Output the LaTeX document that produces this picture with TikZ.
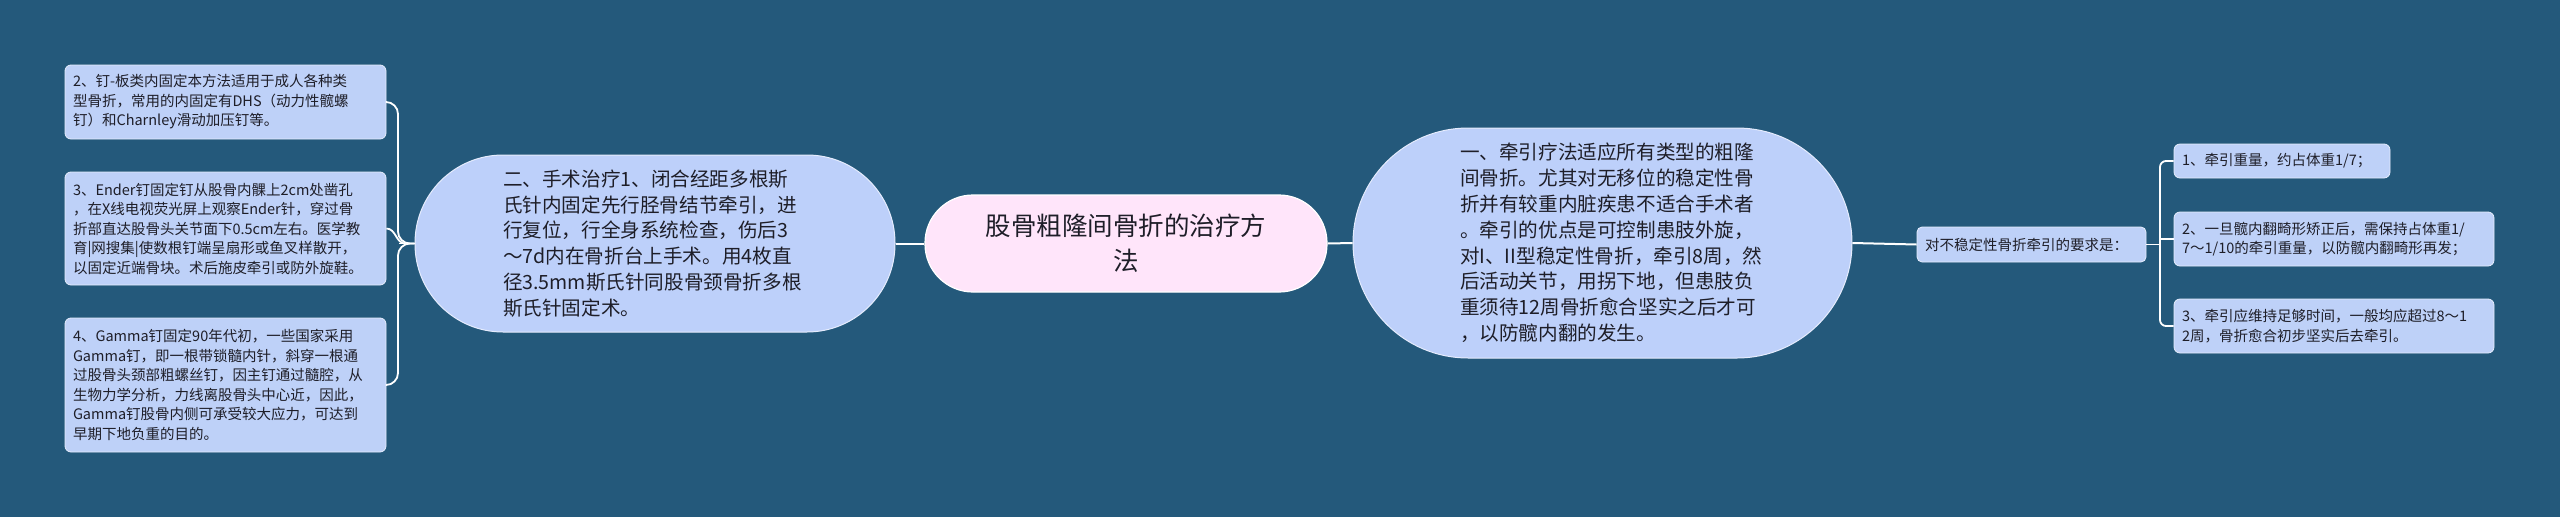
\documentclass[tikz,border=0pt]{standalone}
\usepackage{fontspec}
\setmainfont{Noto Sans CJK SC}
\definecolor{bg}{RGB}{36,89,123}
\definecolor{mainc}{RGB}{189,208,250}
\definecolor{leafc}{RGB}{190,209,248}
\definecolor{rootc}{RGB}{255,229,250}
\definecolor{txt}{RGB}{30,30,40}
\begin{document}
\begin{tikzpicture}[x=1pt,y=-1pt,
  leafbox/.style={draw=white!60!leafc, line width=0.8pt, fill=leafc, rounded corners=6pt,
    inner xsep=8pt, inner ysep=0pt, text=txt, font=\fontsize{14.5}{19.5}\selectfont, align=left},
  mainbox/.style={draw=white!60!mainc, line width=1pt, fill=mainc, text=txt,
    font=\fontsize{19.6}{25.8}\selectfont, align=left, inner sep=0pt},
  rootbox/.style={draw=white, line width=1.2pt, fill=rootc, text=txt,
    font=\fontsize{25.5}{35}\selectfont, align=center, inner sep=0pt},
  wire/.style={draw=white, line width=2pt},
  thinwire/.style={draw=white, line width=1.8pt}]
\fill[bg] (0,0) rectangle (2560,517);
\useasboundingbox (0,0) rectangle (2560,517);

% root
\node[rootbox, rounded corners=48pt, minimum width=402pt, minimum height=97pt] (c) at (1126,243.5)
  {股骨粗隆间骨折的治疗方\\法};

% left main
\node[mainbox, rounded corners=88pt, minimum width=480pt, minimum height=177pt, text width=304pt] (L) at (655,243.5)
  {二、手术治疗1、闭合经距多根斯\\氏针内固定先行胫骨结节牵引，进\\行复位，行全身系统检查，伤后3\\～7d内在骨折台上手术。用4枚直\\径3.5mm斯氏针同股骨颈骨折多根\\斯氏针固定术。};

% right main
\node[mainbox, rounded corners=115pt, minimum width=499pt, minimum height=230pt, text width=285pt] (R) at (1602.5,243)
  {一、牵引疗法适应所有类型的粗隆\\间骨折。尤其对无移位的稳定性骨\\折并有较重内脏疾患不适合手术者\\。牵引的优点是可控制患肢外旋，\\对I、II型稳定性骨折，牵引8周，然\\后活动关节，用拐下地，但患肢负\\重须待12周骨折愈合坚实之后才可\\，以防髋内翻的发生。};

% mid right
\node[leafbox, rounded corners=5pt, text width=213pt, minimum height=35pt] (m) at (2031.5,244.5)
  {对不稳定性骨折牵引的要求是：};

% right leaves
\node[leafbox, text width=200pt, minimum height=34pt] (r1) at (2282,161)
  {1、牵引重量，约占体重1/7；};
\node[leafbox, text width=304pt, minimum height=54pt] (r2) at (2334,239)
  {2、一旦髋内翻畸形矫正后，需保持占体重1/\\7～1/10的牵引重量，以防髋内翻畸形再发；};
\node[leafbox, text width=304pt, minimum height=54pt] (r3) at (2334,326)
  {3、牵引应维持足够时间，一般均应超过8～1\\2周，骨折愈合初步坚实后去牵引。};

% left leaves
\node[leafbox, text width=305pt, minimum height=74pt] (la) at (225.5,102)
  {2、钉-板类内固定本方法适用于成人各种类\\型骨折，常用的内固定有DHS（动力性髋螺\\钉）和Charnley滑动加压钉等。};
\node[leafbox, text width=305pt, minimum height=113pt] (lb) at (225.5,228.5)
  {3、Ender钉固定钉从股骨内髁上2cm处凿孔\\，在X线电视荧光屏上观察Ender针，穿过骨\\折部直达股骨头关节面下0.5cm左右。医学教\\育|网搜集|使数根钉端呈扇形或鱼叉样散开，\\以固定近端骨块。术后施皮牵引或防外旋鞋。};
\node[leafbox, text width=305pt, minimum height=134pt] (lc) at (225.5,385)
  {4、Gamma钉固定90年代初，一些国家采用\\Gamma钉，即一根带锁髓内针，斜穿一根通\\过股骨头颈部粗螺丝钉，因主钉通过髓腔，从\\生物力学分析，力线离股骨头中心近，因此，\\Gamma钉股骨内侧可承受较大应力，可达到\\早期下地负重的目的。};

% connectors root
\draw[wire] (c.west) -- (L.east);
\draw[wire] (c.east) -- (R.east -| R.west);
\draw[wire] (R.east) -- (m.west);

% left connectors
\coordinate (lj) at (399,243.5);
\draw[thinwire] (L.west) -- (lj);
\draw[thinwire, rounded corners=12pt] (la.east) -- (398,102) -- (398,243.5) -- (L.west);
\draw[thinwire, rounded corners=12pt] (lc.east) -- (398,385) -- (398,243.5) -- (L.west);
\draw[thinwire] (lb.east) .. controls (396,228.5) and (396,243.5) .. (405,243.5);

% right connectors
\coordinate (rj) at (2160,244.5);
\draw[thinwire] (m.east) -- (rj);
\draw[thinwire, rounded corners=6pt] (r1.west) -| (rj) |- (r3.west);
\draw[thinwire] (rj |- r2.west) -- (r2.west);
\end{tikzpicture}
\end{document}
